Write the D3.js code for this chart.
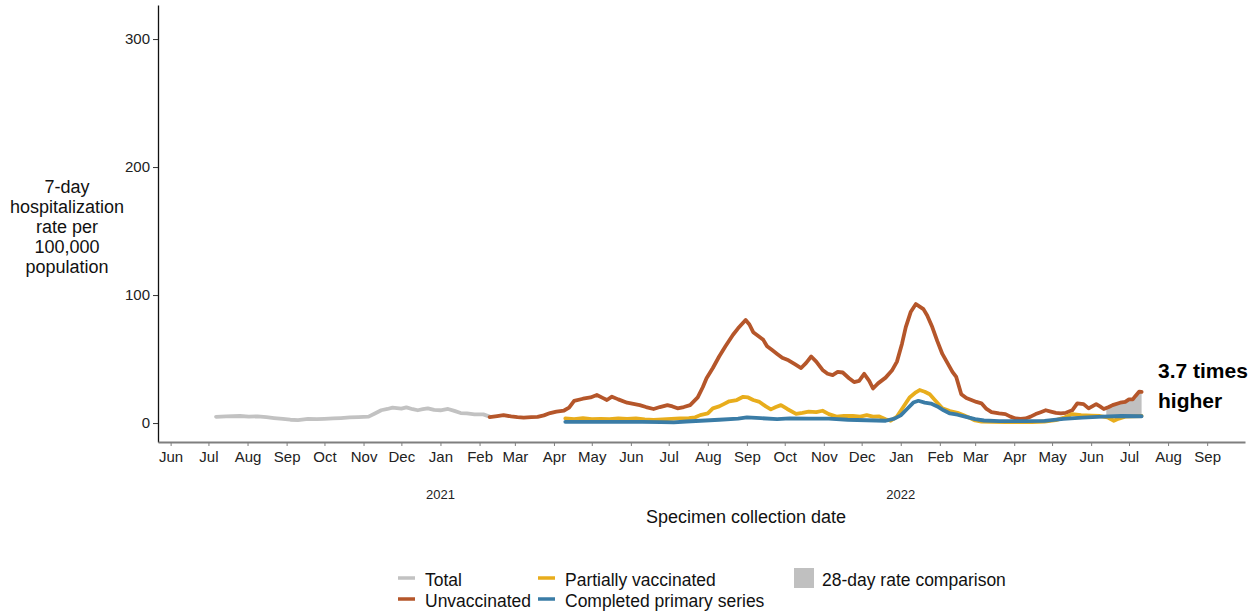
<!DOCTYPE html>
<html>
<head>
<meta charset="utf-8">
<script src="https://cdn.jsdelivr.net/npm/d3@7"></script>
<style>
  body { margin: 0; background: #fff; }
  svg { font-family: "Liberation Sans", Arial, sans-serif; }
</style>
</head>
<body>
<svg id="chart" width="1260" height="613"></svg>
<script>
// data: [date, rate per 100,000]
var total = [
  ["2020-07-07",4.9],["2020-07-15",5.2],["2020-07-26",5.5],["2020-08-02",5.0],["2020-08-09",5.2],
  ["2020-08-16",4.6],["2020-08-22",3.9],["2020-08-29",3.2],["2020-09-04",2.6],["2020-09-10",2.3],
  ["2020-09-18",3.2],["2020-09-25",3.0],["2020-10-01",3.3],["2020-10-08",3.6],["2020-10-14",3.9],
  ["2020-10-21",4.4],["2020-10-28",4.6],["2020-11-05",5.0],["2020-11-10",7.5],["2020-11-15",10],
  ["2020-11-20",11],["2020-11-24",12],["2020-12-01",11.3],["2020-12-05",12.3],["2020-12-10",10.8],
  ["2020-12-14",10],["2020-12-18",10.8],["2020-12-22",11.5],["2020-12-27",10.3],["2021-01-01",10],
  ["2021-01-07",11],["2021-01-12",9.5],["2021-01-17",7.8],["2021-01-22",7.5],["2021-01-28",6.8],
  ["2021-02-04",6.8],["2021-02-09",5.0]
];

var unvaccinated = [
  ["2021-02-09",4.7],["2021-02-15",5.5],["2021-02-20",6.2],["2021-02-26",5.2],["2021-03-03",4.6],
  ["2021-03-08",4.2],["2021-03-14",4.6],["2021-03-19",4.8],["2021-03-24",6.0],["2021-03-29",7.8],
  ["2021-04-03",9.0],["2021-04-09",9.8],["2021-04-13",12],["2021-04-17",17.4],["2021-04-24",19],
  ["2021-04-30",20],["2021-05-05",21.9],["2021-05-10",19.5],["2021-05-13",18],["2021-05-17",20.6],
  ["2021-05-22",18.5],["2021-05-29",15.9],["2021-06-03",15],["2021-06-08",14],["2021-06-13",12.5],
  ["2021-06-19",11],["2021-06-24",12.5],["2021-06-30",14],["2021-07-04",13],["2021-07-08",11.5],
  ["2021-07-13",12.5],["2021-07-18",14],["2021-07-24",20],["2021-07-28",28],["2021-07-31",35],
  ["2021-08-05",43],["2021-08-10",52],["2021-08-15",60],["2021-08-21",69],["2021-08-25",74],
  ["2021-08-31",80.5],["2021-09-03",77],["2021-09-06",71],["2021-09-10",68],["2021-09-14",65],
  ["2021-09-17",60],["2021-09-21",57],["2021-09-25",54],["2021-09-29",51],["2021-10-04",49],
  ["2021-10-09",46],["2021-10-14",43],["2021-10-18",47],["2021-10-22",52],["2021-10-26",48],
  ["2021-10-31",41.5],["2021-11-04",38.5],["2021-11-08",37.5],["2021-11-12",40],["2021-11-16",39.5],
  ["2021-11-21",35],["2021-11-25",32],["2021-11-29",33],["2021-12-03",38.5],["2021-12-07",33],
  ["2021-12-10",27],["2021-12-14",31],["2021-12-20",35.5],["2021-12-25",41],["2021-12-29",48],
  ["2022-01-02",62],["2022-01-05",75],["2022-01-09",87],["2022-01-13",93],["2022-01-16",91],
  ["2022-01-19",89],["2022-01-22",84],["2022-01-26",75],["2022-01-30",64],["2022-02-03",54],
  ["2022-02-07",47],["2022-02-11",40],["2022-02-14",36],["2022-02-18",22.5],["2022-02-22",19.5],
  ["2022-02-26",18],["2022-03-02",16.5],["2022-03-06",15.4],["2022-03-10",11],["2022-03-14",8.5],
  ["2022-03-20",7.5],["2022-03-25",7],["2022-03-29",5],["2022-04-02",3.6],["2022-04-06",3.2],
  ["2022-04-10",3.6],["2022-04-14",5],["2022-04-18",7],["2022-04-22",8.5],["2022-04-26",10],
  ["2022-04-30",9],["2022-05-04",8],["2022-05-08",7.5],["2022-05-12",8],["2022-05-17",10],
  ["2022-05-21",15.4],["2022-05-26",14.8],["2022-05-30",11.5],["2022-06-05",14.8],["2022-06-08",13],
  ["2022-06-11",11],["2022-06-15",12.5],["2022-06-18",14],["2022-06-24",15.9],["2022-06-28",16.5],
  ["2022-07-01",18.5],["2022-07-04",18.5],["2022-07-06",21],["2022-07-09",24.5],["2022-07-11",24.3]
];

var partially = [
  ["2021-04-10",3.6],["2021-04-17",3.0],["2021-04-24",3.8],["2021-05-01",3.0],["2021-05-08",3.3],
  ["2021-05-15",3.0],["2021-05-22",3.6],["2021-05-29",3.2],["2021-06-05",3.6],["2021-06-12",2.8],
  ["2021-06-19",2.4],["2021-06-26",2.8],["2021-07-03",3.2],["2021-07-10",3.6],["2021-07-17",3.8],
  ["2021-07-22",4.5],["2021-07-26",6.2],["2021-08-01",7.5],["2021-08-05",11.5],["2021-08-10",13],
  ["2021-08-14",15],["2021-08-18",17],["2021-08-24",18],["2021-08-29",20.5],["2021-09-02",20],
  ["2021-09-06",18],["2021-09-11",16.5],["2021-09-16",13],["2021-09-20",10.7],["2021-09-24",12.5],
  ["2021-09-28",14],["2021-10-03",11],["2021-10-10",7.2],["2021-10-15",8],["2021-10-20",9],
  ["2021-10-26",8.5],["2021-10-31",9.6],["2021-11-05",7],["2021-11-11",5],["2021-11-17",5.5],
  ["2021-11-24",5.5],["2021-11-30",5],["2021-12-05",6.2],["2021-12-10",5],["2021-12-15",5.2],
  ["2021-12-20",3],["2021-12-24",1.8],["2021-12-29",5],["2022-01-03",12.5],["2022-01-08",20],
  ["2022-01-13",24],["2022-01-16",25.8],["2022-01-20",24.5],["2022-01-24",22.5],["2022-01-28",18],
  ["2022-02-03",11.5],["2022-02-09",9.4],["2022-02-15",8],["2022-02-20",6],["2022-02-25",4],
  ["2022-03-01",2],["2022-03-06",1.2],["2022-03-15",1],["2022-03-25",0.8],["2022-04-05",0.8],
  ["2022-04-15",0.8],["2022-04-25",1.2],["2022-05-04",2.3],["2022-05-10",4],["2022-05-17",7],
  ["2022-05-24",6.2],["2022-06-01",5.8],["2022-06-08",5.5],["2022-06-14",4.5],["2022-06-19",1.8],
  ["2022-06-23",3.5],["2022-06-28",5],["2022-07-04",5.2],["2022-07-11",5.5]
];

var completed = [
  ["2021-04-10",1.0],["2021-05-01",0.9],["2021-05-20",1.0],["2021-06-10",0.9],["2021-06-25",0.8],
  ["2021-07-05",0.5],["2021-07-15",1.2],["2021-07-30",2.0],["2021-08-10",2.6],["2021-08-25",3.5],
  ["2021-09-01",4.4],["2021-09-12",3.8],["2021-09-25",3.0],["2021-10-05",3.6],["2021-10-20",3.4],
  ["2021-11-05",3.4],["2021-11-20",2.6],["2021-12-05",2.2],["2021-12-20",1.8],["2021-12-27",3.5],
  ["2022-01-01",6],["2022-01-06",11],["2022-01-11",16],["2022-01-15",17.4],["2022-01-20",16],
  ["2022-01-25",15.2],["2022-01-30",13],["2022-02-04",10],["2022-02-09",7.5],["2022-02-15",6.5],
  ["2022-02-21",5],["2022-03-01",3],["2022-03-08",2],["2022-03-20",1.5],["2022-04-10",1.5],
  ["2022-04-25",1.7],["2022-05-10",3.2],["2022-05-25",4.2],["2022-06-10",5],["2022-06-25",5.5],
  ["2022-07-11",5.3]
];

var yTicks = [0, 100, 200, 300];
var monthRange = ["2020-06-01", "2022-09-01"];
var yearLabels = [["2021-01-01","2021"],["2022-01-01","2022"]];
var comparisonWindow = ["2022-06-13","2022-07-11"];
var annotation = ["3.7 times", "higher"];

var legendItems = [
  {name:"Total", color:"#c2c2c2", col:0, row:0},
  {name:"Unvaccinated", color:"#b5562a", col:0, row:1},
  {name:"Partially vaccinated", color:"#e8ad1c", col:1, row:0},
  {name:"Completed primary series", color:"#3a7ca6", col:1, row:1}
];

var parse = d3.timeParse("%Y-%m-%d");
var svg = d3.select("#chart");

var x = d3.scaleTime()
    .domain([parse("2020-05-22"), parse("2022-10-01")])
    .range([158, 1245]);
var y = d3.scaleLinear()
    .domain([-14.8, 326.6])
    .range([442, 5]);

var line = d3.line()
    .x(function(d) { return x(parse(d[0])); })
    .y(function(d) { return y(d[1]); });

// value of a series at a date, straight between the read points
function valueAt(series, date) {
  var t = date.getTime();
  for (var i = 1; i < series.length; i++) {
    var t0 = parse(series[i-1][0]).getTime(), t1 = parse(series[i][0]).getTime();
    if (t >= t0 && t <= t1) {
      return series[i-1][1] + (series[i][1] - series[i-1][1]) * (t - t0) / (t1 - t0);
    }
  }
  return series[series.length-1][1];
}

// shaded 28-day comparison between unvaccinated and completed
var w0 = parse(comparisonWindow[0]), w1 = parse(comparisonWindow[1]);
var dates = [w0];
unvaccinated.concat(completed).forEach(function(d) {
  var t = parse(d[0]);
  if (t > w0 && t < w1) dates.push(t);
});
dates.push(w1);
dates.sort(function(a, b) { return a - b; });

var area = d3.area()
    .x(function(d) { return x(d); })
    .y0(function(d) { return y(valueAt(completed, d)); })
    .y1(function(d) { return y(valueAt(unvaccinated, d)); });

svg.append("path")
    .attr("d", area(dates))
    .attr("fill", "#c0c0c0");

// lines
[[total,"#c2c2c2"],[unvaccinated,"#b5562a"],[partially,"#e8ad1c"],[completed,"#3a7ca6"]].forEach(function(s) {
  svg.append("path")
      .attr("d", line(s[0]))
      .attr("fill", "none")
      .attr("stroke", s[1])
      .attr("stroke-width", 3.8)
      .attr("stroke-linejoin", "round")
      .attr("stroke-linecap", "round");
});

// y axis
var yAxis = svg.append("g")
    .attr("transform", "translate(158,0)")
    .call(d3.axisLeft(y).tickValues(yTicks).tickSize(5).tickSizeOuter(0).tickPadding(3));
yAxis.select(".domain").attr("stroke", "#111").attr("stroke-width", 1.3);
yAxis.selectAll(".tick line").attr("stroke", "#333");
yAxis.selectAll(".tick text")
    .attr("font-size", "15px")
    .attr("font-family", "Liberation Sans, Arial, sans-serif")
    .attr("fill", "#222");

// x axis: one tick per month, Jun 2020 to Sep 2022
var months = d3.timeMonth.range(parse(monthRange[0]), d3.timeMonth.offset(parse(monthRange[1]), 1));
var xAxis = svg.append("g")
    .attr("transform", "translate(0,442)")
    .call(d3.axisBottom(x)
      .tickValues(months)
      .tickFormat(d3.timeFormat("%b"))
      .tickSize(4)
      .tickSizeOuter(0)
      .tickPadding(5));
xAxis.select(".domain").attr("stroke", "#7f7f7f").attr("stroke-width", 2);
xAxis.selectAll(".tick line").attr("stroke", "#7f7f7f");
xAxis.selectAll(".tick text")
    .attr("font-size", "15px")
    .attr("font-family", "Liberation Sans, Arial, sans-serif")
    .attr("fill", "#222");

// years under January
svg.selectAll(".year")
    .data(yearLabels)
    .enter().append("text")
    .attr("x", function(d) { return x(parse(d[0])); })
    .attr("y", 499)
    .attr("text-anchor", "middle")
    .attr("font-size", "13px")
    .attr("fill", "#222")
    .text(function(d) { return d[1]; });

svg.append("text")
    .attr("x", 746)
    .attr("y", 523)
    .attr("text-anchor", "middle")
    .attr("font-size", "18px")
    .attr("fill", "#111")
    .text("Specimen collection date");

var yTitle = ["7-day", "hospitalization", "rate per", "100,000", "population"];
svg.append("text")
    .attr("text-anchor", "middle")
    .attr("font-size", "18px")
    .attr("fill", "#111")
    .selectAll("tspan")
    .data(yTitle)
    .enter().append("tspan")
    .attr("x", 67)
    .attr("y", function(d, i) { return 193 + i * 20; })
    .text(function(d) { return d; });

// annotation
svg.selectAll(".note")
    .data(annotation)
    .enter().append("text")
    .attr("x", 1158)
    .attr("y", function(d, i) { return 378 + i * 30; })
    .attr("font-size", "21px")
    .attr("font-weight", "bold")
    .attr("fill", "#000")
    .text(function(d) { return d; });

// legend
var legend = svg.append("g");
var colX = [398, 538];
legendItems.forEach(function(d) {
  var lx = colX[d.col], ly = 578 + d.row * 21;
  legend.append("line")
      .attr("x1", lx).attr("x2", lx + 17)
      .attr("y1", ly).attr("y2", ly)
      .attr("stroke", d.color)
      .attr("stroke-width", 3.5);
  legend.append("text")
      .attr("x", lx + 27)
      .attr("y", ly + 8)
      .attr("font-size", "17.5px")
      .attr("fill", "#111")
      .text(d.name);
});
legend.append("rect")
    .attr("x", 794).attr("y", 568)
    .attr("width", 20).attr("height", 20)
    .attr("fill", "#c0c0c0");
legend.append("text")
    .attr("x", 822)
    .attr("y", 586)
    .attr("font-size", "17.5px")
    .attr("fill", "#111")
    .text("28-day rate comparison");
</script>
</body>
</html>
